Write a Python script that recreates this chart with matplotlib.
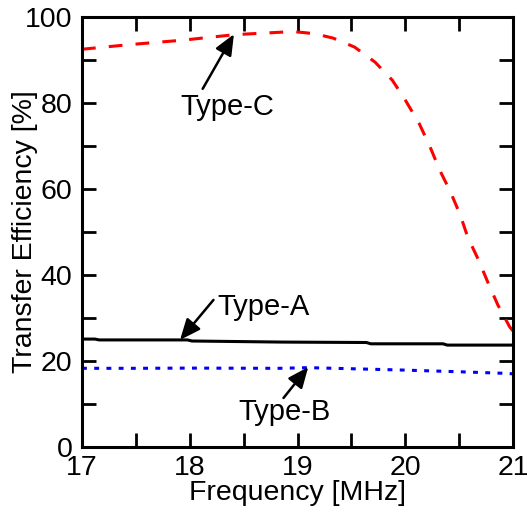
import matplotlib.pyplot as plt
from matplotlib.ticker import MultipleLocator

plt.rcParams["font.family"] = ["Liberation Sans", "DejaVu Sans"]

# Frequency [MHz] and transfer efficiency [%]
freq_c = [17.0, 17.45, 17.93, 18.42, 18.95, 19.05, 19.16, 19.33, 19.53,
          19.72, 19.88, 20.0, 20.13, 20.23, 20.32, 20.42, 20.51, 20.58,
          20.68, 20.77, 20.86, 20.97, 21.0]
eff_c = [92.5, 93.6, 94.6, 95.9, 96.6, 96.4, 96.1, 95.1, 93.0,
         89.5, 85.3, 80.7, 75.2, 69.8, 64.4, 59.3, 54.0, 48.8,
         43.5, 38.1, 33.0, 27.9, 27.0]

freq_a = [17.0, 17.12, 17.16, 17.98, 18.02, 18.86, 19.64, 19.68, 20.35, 20.39, 21.0]
eff_a = [25.1, 25.1, 24.9, 24.9, 24.65, 24.4, 24.3, 24.0, 24.0, 23.7, 23.7]

freq_b = [17.0, 17.5, 18.0, 18.83, 19.1, 19.5, 19.97, 20.5, 20.96, 21.0]
eff_b = [18.3, 18.3, 18.35, 18.3, 18.45, 18.2, 17.9, 17.5, 17.1, 17.0]

labels = ["Type-C", "Type-A", "Type-B"]
label_xy = [(18.35, 77.2), (18.68, 30.7), (18.88, 6.3)]
arrow_tail = [(18.12, 83.3), (18.22, 34.2), (18.87, 11.4)]
arrow_tip = [(18.41, 96.0), (17.91, 24.9), (19.10, 18.6)]

fig = plt.figure(figsize=(5.27, 5.12), dpi=100)
ax = fig.add_axes([82 / 527, 65 / 512, 431 / 527, 430 / 512])

ax.plot(freq_a, eff_a, color="black", lw=2.2)
ax.plot(freq_b, eff_b, color="blue", lw=2.2, linestyle=(0, (1.6, 2.4)))
ax.plot(freq_c, eff_c, color="red", lw=2.2, linestyle=(0, (4.5, 4.3)))

ax.set_xlim(17, 21)
ax.set_ylim(0, 100)
ax.xaxis.set_major_locator(MultipleLocator(1))
ax.xaxis.set_minor_locator(MultipleLocator(0.5))
ax.yaxis.set_major_locator(MultipleLocator(20))
ax.yaxis.set_minor_locator(MultipleLocator(10))
ax.tick_params(which="both", direction="in", top=True, right=True, width=2,
               length=10, labelsize=20.5)
ax.tick_params(axis="x", pad=6)
ax.tick_params(axis="y", pad=7)
for s in ax.spines.values():
    s.set_linewidth(2.2)

ax.set_xlabel("Frequency [MHz]", fontsize=20.5, va="center")
ax.xaxis.set_label_coords(0.5, -0.107)
ax.set_ylabel("Transfer Efficiency [%]", fontsize=20.5, va="center")
ax.yaxis.set_label_coords(-0.133, 0.5)

for txt, (tx, ty), tail, tip in zip(labels, label_xy, arrow_tail, arrow_tip):
    ax.text(tx, ty, txt, fontsize=21, ha="center", va="baseline")
    ax.annotate("", xy=tip, xytext=tail,
                arrowprops=dict(arrowstyle="-|>,head_length=0.7,head_width=0.3",
                                color="black", lw=1.8, shrinkA=0, shrinkB=0,
                                mutation_scale=18))

fig.savefig("out.png", dpi=100)
